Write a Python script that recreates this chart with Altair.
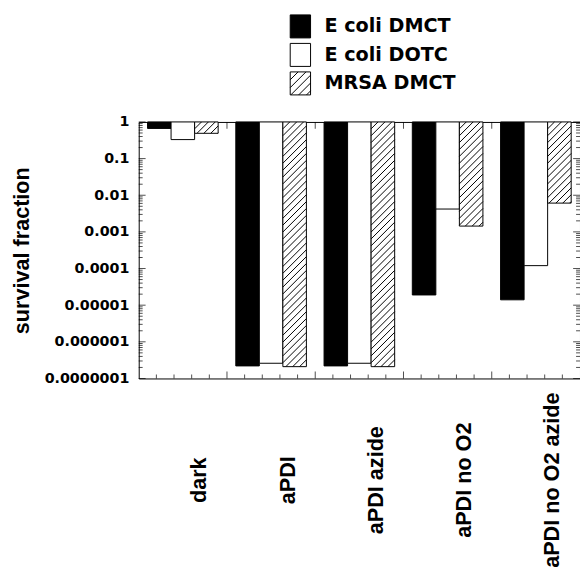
import altair as alt
import numpy as np
import pandas as pd

# ---- data ----
categories = ["dark", "aPDI", "aPDI azide", "aPDI no O2", "aPDI no O2 azide"]
series = ["E coli DMCT", "E coli DOTC", "MRSA DMCT"]
ecoli_dmct = [0.665, 2.2e-7, 2.2e-7, 1.9e-5, 1.4e-5]
ecoli_dotc = [0.33, 2.6e-7, 2.6e-7, 0.0042, 1.2e-4]
mrsa_dmct = [0.49, 2.1e-7, 2.1e-7, 0.00144, 0.0061]
y_tick_values = [1e-7, 1e-6, 1e-5, 1e-4, 1e-3, 1e-2, 1e-1, 1.0]

# ---- layout ----
W, H = 449, 261
NDEC = 7
PAD_IN, PAD_OUT = 0.2, 0.1

rows = []
for s_name, vals in zip(series, [ecoli_dmct, ecoli_dotc, mrsa_dmct]):
    for c, v in zip(categories, vals):
        rows.append({"category": c, "series": s_name, "value": v, "top": 1.0})
df = pd.DataFrame(rows)

yscale = alt.Scale(type="log", domain=[1e-7, 1])
xlin = alt.Scale(domain=[0, 5], nice=False, zero=False)

# ---- hatch lines for the MRSA bars (derived from the values) ----
step_px = W / 5.0
bar_u = (1 - PAD_IN) / 3.0
spacing = 7.0
hatch = []
for i, v in enumerate(mrsa_dmct):
    x0u = i + PAD_OUT + 2 * bar_u
    wpx = bar_u * step_px
    yb = -np.log10(v) * H / NDEC
    c = spacing
    while c < wpx + yb:
        u0 = max(0.0, c - yb)
        u1 = min(wpx, c)
        if u1 - u0 > 0.3:
            hatch.append({
                "value": 10 ** (-(c - u0) * NDEC / H), "hy2": 10 ** (-(c - u1) * NDEC / H),
                "hx": x0u + u0 / step_px, "hx2": x0u + u1 / step_px,
            })
        c += spacing
hatch_df = pd.DataFrame(hatch)

# ---- tick positions ----
minor_y = [m * 10.0 ** e for e in range(-7, 0) for m in range(2, 10)]
major_x = [1, 2, 3, 4]
minor_x = [k / 5 for k in range(1, 25) if k % 5 != 0]

def ytick(vals, size, xpos):
    return alt.Chart(pd.DataFrame({"value": vals})).mark_tick(
        orient="horizontal", size=size, thickness=1, color="black"
    ).encode(y=alt.Y("value:Q", scale=yscale), x=alt.value(xpos))

def xtick(vals, size, ypos):
    return alt.Chart(pd.DataFrame({"t": vals})).mark_tick(
        orient="vertical", size=size, thickness=1, color="black"
    ).encode(x=alt.X("t:Q", scale=xlin, axis=None), y=alt.value(ypos))

ticks = [
    ytick(y_tick_values, 7, 3.5), ytick(y_tick_values, 7, W - 3.5),
    ytick(minor_y, 4, 2), ytick(minor_y, 4, W - 2),
    xtick(major_x, 7, H - 3.5), xtick(major_x, 7, 3.5),
    xtick(minor_x, 4, H - 2), xtick(minor_x, 4, 2),
]

# ---- legend symbols (unit box, scaled by sqrt(size)/2) ----
HX, HY = 1.035, 1.17
rect_path = "M{a},{b}L{c},{b}L{c},{d}L{a},{d}Z".format(a=-HX, b=-HY, c=HX, d=HY)
lines = ""
cc = 0.8
while cc < 2 * HX + 2 * HY:
    u0 = max(0.0, cc - 2 * HY)
    u1 = min(2 * HX, cc)
    if u1 - u0 > 0.05:
        lines += "M{:.3f},{:.3f}L{:.3f},{:.3f}".format(u0 - HX, cc - u0 - HY, u1 - HX, cc - u1 - HY)
    cc += 0.8
hatch_path = rect_path + lines

fill_scale = alt.Scale(domain=series, range=["black", "white", "white"])
legend = alt.Legend(
    orient="none", legendX=154, legendY=-107.7, title=None, padding=0,
    symbolSize=400, rowPadding=0, labelOffset=14,
    labelFont="DejaVu Sans", labelFontWeight="bold", labelFontSize=19.5,
    labelColor="black", symbolStrokeColor="black", symbolStrokeWidth=1,
    symbolOpacity=1,
)

y_axis = alt.Axis(
    values=y_tick_values, labelExpr="format(datum.value, '.7~f')",
    ticks=False, tickSize=0, domain=False, grid=False, labelFlush=False,
    labelPadding=10, labelFont="DejaVu Sans", labelFontWeight="bold",
    labelFontSize=14.5, labelColor="black",
    title="survival fraction", titleFont="Liberation Sans", titleFontSize=22,
    titleFontWeight="bold", titlePadding=11, titleColor="black",
)

legend_layer = alt.Chart(df).mark_point(
    filled=True, opacity=0, strokeWidth=1
).encode(
    y=alt.Y("value:Q", scale=yscale, axis=y_axis),
    x=alt.value(0),
    fill=alt.Fill("series:N", sort=series, scale=fill_scale, legend=legend),
    stroke=alt.Stroke(
        "series:N", sort=series,
        scale=alt.Scale(domain=series, range=["black", "black", "black"]),
        legend=legend,
    ),
    shape=alt.Shape(
        "series:N", sort=series,
        scale=alt.Scale(domain=series, range=[rect_path, rect_path, hatch_path]),
        legend=legend,
    ),
)

bars = alt.Chart(df).mark_bar(stroke="black", strokeWidth=1).encode(
    x=alt.X(
        "category:N", sort=categories,
        scale=alt.Scale(paddingInner=PAD_IN, paddingOuter=PAD_OUT),
        axis=alt.Axis(
            title=None, labelAngle=270, labelAlign="center", labelBaseline="middle",
            labelPadding=103, labelOffset=17, ticks=False, tickSize=0, domain=False,
            labelFont="Liberation Sans", labelFontWeight="bold", labelFontSize=22,
            labelColor="black",
        ),
    ),
    xOffset=alt.XOffset("series:N", sort=series),
    y=alt.Y("value:Q", scale=yscale, axis=y_axis),
    y2="top:Q",
    fill=alt.Fill("series:N", sort=series, scale=fill_scale, legend=legend),
)

hatch_layer = alt.Chart(hatch_df).mark_rule(color="black", strokeWidth=1).encode(
    x=alt.X("hx:Q", scale=xlin, axis=None),
    x2="hx2:Q",
    y=alt.Y("value:Q", scale=yscale),
    y2="hy2:Q",
)

chart = alt.layer(legend_layer, *ticks, bars, hatch_layer).resolve_scale(x="independent").properties(
    width=W, height=H,
    padding={"left": 2, "top": 3, "right": 0, "bottom": 0},
).configure_view(stroke="black", strokeWidth=1)

chart.save("out.html", embed_options={"renderer": "svg", "actions": False})
